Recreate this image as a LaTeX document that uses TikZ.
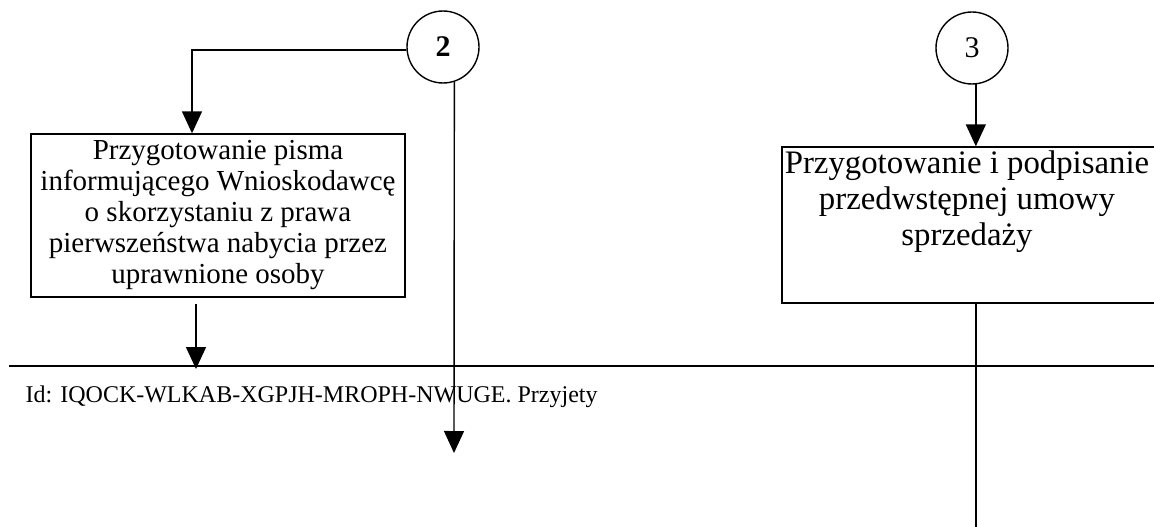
\documentclass[tikz,border=0pt]{standalone}
\usepackage{fontspec}
\setmainfont{Liberation Serif}
\usetikzlibrary{arrows.meta}
\newcommand\connfont{\fontsize{30}{30}\selectfont}
\begin{document}
\begin{tikzpicture}[x=1pt,y=-1pt,
  line width=1.4pt,
  arr/.style={-{Triangle[width=20pt,length=22pt]}},
  stepbox/.style={draw, rectangle, inner sep=0pt},
  conn/.style={draw, circle, minimum size=72pt, inner sep=0pt}]
\useasboundingbox (0,0) rectangle (1154,527);
\clip (0,0) rectangle (1154,527);

% off-page connectors
\node[conn] (c2) at (443,47) {\connfont\textbf{2}};
\node[conn] (c3) at (972,48) {\connfont 3};

% process steps
\node[stepbox, minimum width=374pt, minimum height=163pt, align=center,
  font=\fontsize{29}{31}\selectfont] (lbox) at (218,215.5)
  {Przygotowanie pisma\\informującego Wnioskodawcę\\o skorzystaniu z prawa\\pierwszeństwa nabycia przez\\uprawnione osoby};
\node[stepbox, minimum width=378pt, minimum height=156pt] (rbox) at (971,225) {};
\node[anchor=north, align=center, inner sep=0pt,
  font=\fontsize{32.8}{36}\selectfont] (rtext) at ([xshift=-4pt,yshift=-4pt]rbox.north)
  {Przygotowanie i podpisanie\\przedwstępnej umowy\\sprzedaży};

% page break line and footer id
\coordinate (hl) at (9,366);
\coordinate (hr) at (1154,366);
\draw (hl) -- (hr);
\node[anchor=base west, inner sep=0pt, font=\fontsize{24}{24}\selectfont] (idtext) at (25,402)
  {Id: IQOCK-WLKAB-XGPJH-MROPH-NWUGE. Przyjety};

% connectors
\coordinate (d2) at (454,453);
\coordinate (a1) at (196,304);
\coordinate (a2) at (196,369);
\draw[arr] (c2.185) -| ([xshift=-26pt]lbox.north);
\draw[arr] (c2.-72) -- (d2);
\draw[arr] (a1) -- (a2);
\draw[arr] (c3.-84) -- (c3.-84 |- rbox.north);
\draw[line width=2.4pt] (c3.-84 |- rbox.south) -- (c3.-84 |- 0,527);
\end{tikzpicture}
\end{document}
